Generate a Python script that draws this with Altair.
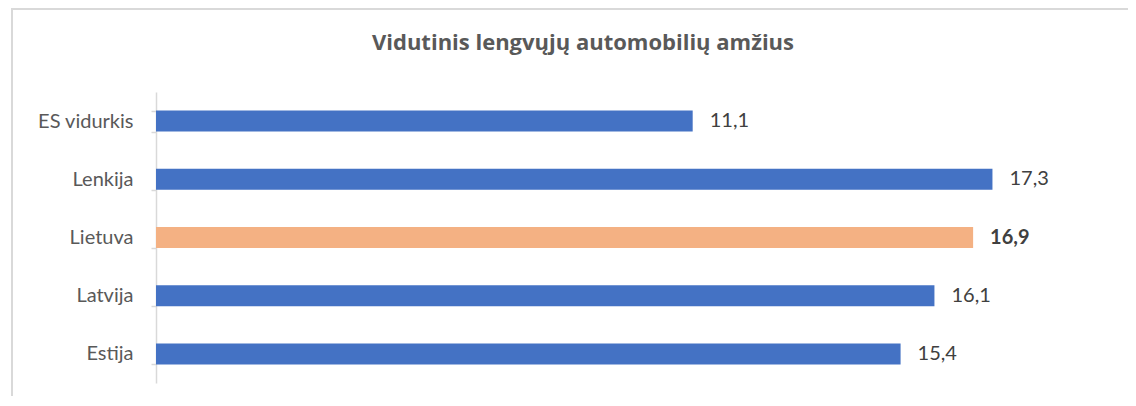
import altair as alt
import pandas as pd

categories = ["ES vidurkis", "Lenkija", "Lietuva", "Latvija", "Estija"]
values = [11.1, 17.3, 16.9, 16.1, 15.4]
labels = ["11,1", "17,3", "16,9", "16,1", "15,4"]
highlight = [False, False, True, False, False]
title_text = ["Vidutinis lengvųjų automobilių amžius"]

df = pd.DataFrame({"cat": categories, "val": values, "lab": labels, "hl": highlight})
df_title = pd.DataFrame({"t": title_text})

FONT = "Lato"
W, H = 967, 291
PAD = {"left": 148, "top": 84, "right": 5, "bottom": 13}

y_enc = alt.Y("cat:N", sort=categories, title=None,
              scale=alt.Scale(paddingInner=0.64, paddingOuter=0.32))
x_enc = alt.X("val:Q", title=None, scale=alt.Scale(domain=[0, 20], nice=False, zero=True), axis=None)

bars = alt.Chart(df).mark_bar().encode(
    y=y_enc, x=x_enc,
    color=alt.Color("hl:N", scale=alt.Scale(domain=[False, True], range=["#4472C4", "#F4B183"]), legend=None),
)

text_norm = alt.Chart(df).transform_filter("!datum.hl").mark_text(
    align="left", dx=17, font=FONT, fontSize=20, color="#404040").encode(
    y=y_enc, x=x_enc, text="lab:N")

text_bold = alt.Chart(df).transform_filter("datum.hl").mark_text(
    align="left", dx=17, font=FONT, fontSize=20, fontWeight="bold", color="#404040").encode(
    y=y_enc, x=x_enc, text="lab:N")

frame_top = alt.Chart(df).mark_rule(stroke="#d9d9d9", strokeWidth=2).encode(
    x=alt.value(-144), x2=alt.value(W + PAD["right"]), y=alt.value(-83)
)
frame_left = alt.Chart(df).mark_rule(stroke="#d9d9d9", strokeWidth=2).encode(
    x=alt.value(-144), y=alt.value(-84), y2=alt.value(H + PAD["bottom"])
)

title = alt.Chart(df_title).mark_text(
    font="Open Sans", fontSize=22, fontWeight="bold", color="#595959", align="center", baseline="alphabetic"
).encode(x=alt.value(427), y=alt.value(-42), text="t:N")

chart = alt.layer(frame_top, frame_left, title, bars, text_norm, text_bold).properties(
    width=W, height=H,
    autosize=alt.AutoSizeParams(type="none"),
    padding=PAD,
).configure_view(stroke=None).configure_axisY(
    domainColor="#d9d9d9", domainWidth=1.5, tickColor="#d9d9d9",
    tickWidth=1.5, tickSize=5, tickBand="extent",
    labelFont=FONT, labelFontSize=20, labelColor="#595959", labelPadding=18,
)

chart.save("out.html", embed_options={"renderer": "svg", "actions": False})
